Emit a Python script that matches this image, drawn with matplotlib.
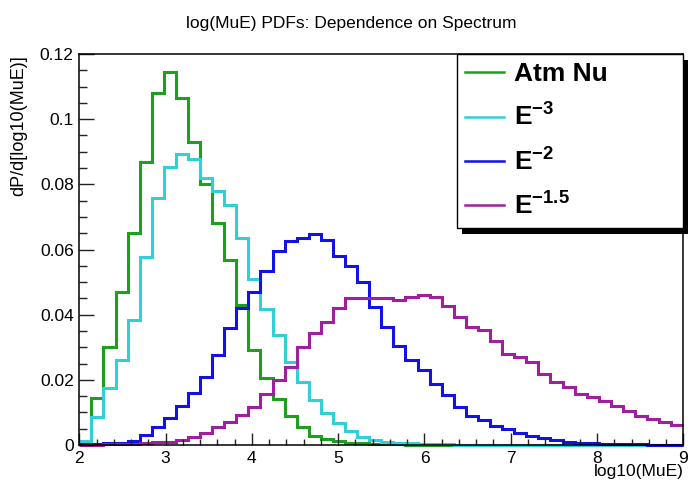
import numpy as np
import matplotlib
matplotlib.use("Agg")
import matplotlib.pyplot as plt
from matplotlib.lines import Line2D
from matplotlib.patches import Rectangle
from matplotlib.ticker import MultipleLocator

plt.rcParams['font.family'] = ['Liberation Sans', 'DejaVu Sans']
plt.rcParams['mathtext.fontset'] = 'custom'
plt.rcParams['mathtext.rm'] = 'Liberation Sans'
plt.rcParams['mathtext.bf'] = 'Liberation Sans:bold'

# histogram binning: 50 bins from 2 to 9 in log10(MuE)
x_min, x_max, n_bins = 2.0, 9.0, 50
edges = np.linspace(x_min, x_max, n_bins + 1)

atm_nu = [0.0012, 0.0145, 0.0300, 0.0470, 0.0651, 0.0869, 0.1079, 0.1144, 0.1064, 0.0930,
          0.0800, 0.0680, 0.0569, 0.0431, 0.0292, 0.0205, 0.0142, 0.0090, 0.0054, 0.0028,
          0.0017, 0.0011, 0.0007, 0.0005, 0.0003, 0.0002, 0.0002, 0.0001, 0.0001, 0.0001,
          0, 0, 0, 0, 0, 0, 0, 0, 0, 0,
          0, 0, 0, 0, 0, 0, 0, 0, 0, 0]

e3 = [0.0012, 0.0085, 0.0174, 0.0262, 0.0383, 0.0578, 0.0759, 0.0854, 0.0892, 0.0879,
      0.0818, 0.0779, 0.0738, 0.0636, 0.0508, 0.0418, 0.0337, 0.0256, 0.0193, 0.0138,
      0.0098, 0.0069, 0.0044, 0.0026, 0.0015, 0.0010, 0.0007, 0.0005, 0.0003, 0.0002,
      0.0002, 0.0001, 0.0001, 0.0001, 0.0001, 0.0001, 0, 0, 0, 0,
      0, 0, 0, 0, 0, 0, 0, 0, 0, 0]

e2 = [0.0003, 0.0004, 0.0005, 0.0007, 0.0013, 0.0030, 0.0056, 0.0082, 0.0120, 0.0159,
      0.0210, 0.0277, 0.0359, 0.0420, 0.0471, 0.0533, 0.0594, 0.0626, 0.0636, 0.0649,
      0.0629, 0.0579, 0.0549, 0.0499, 0.0424, 0.0362, 0.0305, 0.0262, 0.0229, 0.0188,
      0.0153, 0.0118, 0.0090, 0.0077, 0.0058, 0.0048, 0.0036, 0.0028, 0.0021, 0.0015,
      0.0010, 0.0007, 0.0005, 0.0004, 0.0003, 0.0002, 0.0002, 0.0001, 0.0001, 0.0001]

e15 = [0.0001, 0.0001, 0.0002, 0.0003, 0.0004, 0.0006, 0.0008, 0.0010, 0.0015, 0.0024,
       0.0038, 0.0054, 0.0072, 0.0092, 0.0118, 0.0155, 0.0198, 0.0240, 0.0300, 0.0345,
       0.0378, 0.0420, 0.0450, 0.0452, 0.0452, 0.0451, 0.0446, 0.0454, 0.0460, 0.0455,
       0.0426, 0.0393, 0.0362, 0.0352, 0.0318, 0.0280, 0.0270, 0.0256, 0.0218, 0.0194,
       0.0177, 0.0156, 0.0147, 0.0136, 0.0120, 0.0104, 0.0090, 0.0080, 0.0072, 0.0062]

labels = ['Atm Nu', r'$\mathbf{E^{-3}}$', r'$\mathbf{E^{-2}}$', r'$\mathbf{E^{-1.5}}$']
colors = ['#1f9f1f', '#33cfd6', '#1212e6', '#a01ea0']

fig = plt.figure(figsize=(6.88, 4.83), dpi=100)
ax = fig.add_axes([79.3 / 688, 1 - 445 / 483, 604 / 688, 391 / 483])
ax.set_facecolor('none')

for vals, col in zip([atm_nu, e3, e2, e15], colors):
    ax.stairs(vals, edges, baseline=None, color=col, linewidth=2.2, clip_on=False)

ax.set_xlim(x_min, x_max)
ax.set_ylim(0, 0.12)
ax.xaxis.set_major_locator(MultipleLocator(1))
ax.xaxis.set_minor_locator(MultipleLocator(0.2))
ax.yaxis.set_minor_locator(MultipleLocator(0.005))
ax.set_yticks([0, 0.02, 0.04, 0.06, 0.08, 0.1, 0.12])
ax.set_yticklabels(['0', '0.02', '0.04', '0.06', '0.08', '0.1', '0.12'])

ax.tick_params(axis='both', which='both', direction='in', top=False, right=False,
               width=1.0, labelsize=12.5, color='#222222')
ax.tick_params(axis='y', which='major', length=11, pad=4)
ax.tick_params(axis='y', which='minor', length=5.5)
ax.tick_params(axis='x', which='major', length=9, pad=4)
ax.tick_params(axis='x', which='minor', length=4.5)
for sp in ax.spines.values():
    sp.set_linewidth(1.1)

ax.set_xlabel('log10(MuE)', fontsize=12.5, loc='right', labelpad=-1)
ax.set_ylabel('dP/d[log10(MuE)]', fontsize=13, loc='top')
ax.yaxis.set_label_coords(-0.087, 0.997)

fig.text(351 / 688, 1 - 28 / 483, 'log(MuE) PDFs: Dependence on Spectrum',
         ha='center', va='baseline', fontsize=12.5)

handles = [Line2D([], [], color=c, linewidth=1.8) for c in colors]
leg_h = (225 - 54) / 483
leg = ax.legend(handles, labels, loc='upper left', mode='expand',
                bbox_to_anchor=(457 / 688, 1 - 54 / 483 - leg_h, 226 / 688, leg_h),
                bbox_transform=fig.transFigure, borderaxespad=0,
                prop={'weight': 'bold', 'size': 19}, handlelength=1.45,
                handletextpad=0.4, labelspacing=0.65, borderpad=0.32,
                fancybox=False, framealpha=1, edgecolor='black')
leg.get_frame().set_linewidth(1.0)

# ROOT-style black drop shadow behind the legend box
fig.canvas.draw()
bb = leg.get_window_extent().transformed(ax.transAxes.inverted())
dx = 5 / 604
dy = 6 / 391
ax.add_patch(Rectangle((bb.x0 + dx, bb.y0 - dy), bb.width, bb.height,
                       transform=ax.transAxes, facecolor='black', edgecolor='none',
                       zorder=4.5, clip_on=False))

fig.savefig('out.png', dpi=100)
